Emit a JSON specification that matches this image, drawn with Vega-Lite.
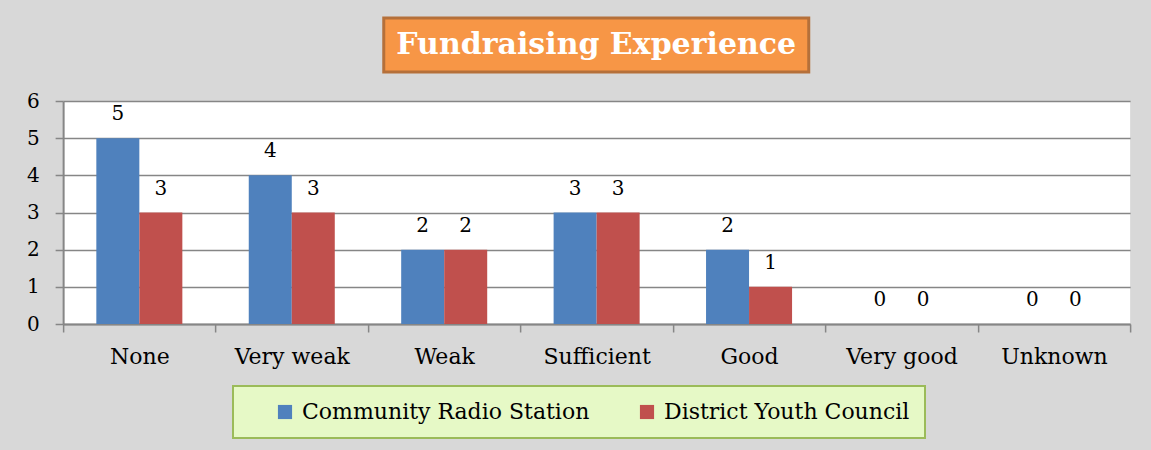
{
  "$schema": "https://vega.github.io/schema/vega-lite/v6.json",
  "background": "#d8d8d8",
  "padding": {"left": 26, "top": 16, "right": 21, "bottom": 13},
  "spacing": 17,
  "center": true,
  "config": {
    "font": "DejaVu Serif",
    "view": {"stroke": null},
    "legend": {"layout": {"anchor": "middle"}, "strokeWidth": 2}
  },
  "vconcat": [
    {
      "width": 425,
      "height": 54,
      "view": {"fill": "#f79646", "stroke": "#b5703a", "strokeWidth": 3},
      "data": {"values": [{"t": "Fundraising Experience"}]},
      "mark": {"type": "text", "font": "DejaVu Serif", "fontWeight": "bold", "fontSize": 30, "color": "#ffffff", "baseline": "middle", "align": "center"},
      "encoding": {"text": {"field": "t", "type": "nominal"}}
    },
    {
      "width": 1067,
      "height": 223,
      "view": {"fill": "#ffffff", "stroke": null},
      "data": {"values": [
        {"category": "None", "series": "Community Radio Station", "value": 5},
        {"category": "None", "series": "District Youth Council", "value": 3},
        {"category": "Very weak", "series": "Community Radio Station", "value": 4},
        {"category": "Very weak", "series": "District Youth Council", "value": 3},
        {"category": "Weak", "series": "Community Radio Station", "value": 2},
        {"category": "Weak", "series": "District Youth Council", "value": 2},
        {"category": "Sufficient", "series": "Community Radio Station", "value": 3},
        {"category": "Sufficient", "series": "District Youth Council", "value": 3},
        {"category": "Good", "series": "Community Radio Station", "value": 2},
        {"category": "Good", "series": "District Youth Council", "value": 1},
        {"category": "Very good", "series": "Community Radio Station", "value": 0},
        {"category": "Very good", "series": "District Youth Council", "value": 0},
        {"category": "Unknown", "series": "Community Radio Station", "value": 0},
        {"category": "Unknown", "series": "District Youth Council", "value": 0}
      ]},
      "encoding": {
        "x": {
          "field": "category", "type": "nominal",
          "sort": ["None", "Very weak", "Weak", "Sufficient", "Good", "Very good", "Unknown"],
          "scale": {"paddingInner": 0, "paddingOuter": 0},
          "axis": {
            "title": null, "labelAngle": 0, "labelFont": "DejaVu Serif", "labelFontSize": 22,
            "labelColor": "#000000", "labelPadding": 14, "tickBand": "extent", "tickSize": 8,
            "tickColor": "#868686", "tickWidth": 1.5, "domainColor": "#868686", "domainWidth": 2, "grid": false
          }
        },
        "xOffset": {
          "field": "series", "type": "nominal",
          "sort": ["Community Radio Station", "District Youth Council"],
          "scale": {"paddingInner": 0, "paddingOuter": 0.772}
        },
        "y": {
          "field": "value", "type": "quantitative",
          "scale": {"domain": [0, 6], "nice": false},
          "axis": {
            "title": null, "values": [0, 1, 2, 3, 4, 5, 6], "labelFont": "DejaVu Serif", "labelFontSize": 20,
            "labelColor": "#000000", "labelPadding": 16, "tickSize": 8, "tickColor": "#868686", "tickWidth": 1.5,
            "domainColor": "#868686", "domainWidth": 2, "grid": true, "gridColor": "#868686", "gridWidth": 1.5
          }
        },
        "color": {
          "field": "series", "type": "nominal",
          "sort": ["Community Radio Station", "District Youth Council"],
          "scale": {"range": ["#4f81bd", "#c0504d"]},
          "legend": {
            "title": null, "orient": "bottom", "direction": "horizontal",
            "labelFont": "DejaVu Serif", "labelFontSize": 22, "labelColor": "#000000", "labelLimit": 500,
            "symbolType": "square", "symbolSize": 200, "symbolStrokeWidth": 0, "symbolOpacity": 1,
            "symbolOffset": 26,
            "fillColor": "#e6f9c6", "strokeColor": "#9bbb59", "padding": 15, "columnPadding": 20,
            "labelOffset": 6, "offset": 19
          }
        }
      },
      "layer": [
        {"mark": {"type": "bar"}},
        {
          "mark": {"type": "text", "baseline": "bottom", "dy": -14, "fontSize": 20, "font": "DejaVu Serif", "color": "#000000"},
          "encoding": {"text": {"field": "value", "type": "quantitative"}, "color": {"value": "#000000"}}
        }
      ]
    }
  ]
}
